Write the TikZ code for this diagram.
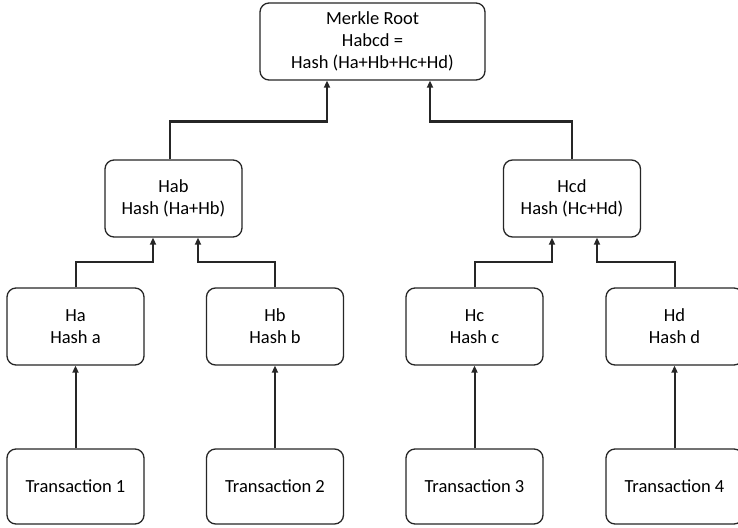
\documentclass[tikz,border=0pt]{standalone}
\usepackage{fontspec}
\setmainfont{Carlito}
\usetikzlibrary{arrows.meta, positioning}

\begin{document}
\begin{tikzpicture}[
  x=1pt, y=-1pt,
  hbox/.style={rectangle, rounded corners=9pt, draw=black!85, line width=1.3pt,
              fill=white, align=center, inner sep=0pt,
              minimum width=137pt, minimum height=77pt,
              font=\fontsize{18.5}{22}\selectfont},
  arr/.style={-{Triangle[length=7pt,width=6pt]}, line width=2pt, black!85}
]
  \useasboundingbox (0,0) rectangle (738,527);
  \node[hbox, minimum width=225pt] (root) at (372.5,41.5) {Merkle Root\\Habcd =\\Hash (Ha+Hb+Hc+Hd)};
  \node[hbox] (hab) at (173.5,198.5) {Hab\\Hash (Ha+Hb)};
  \node[hbox] (hcd) at (572,198.5)   {Hcd\\Hash (Hc+Hd)};
  \node[hbox] (ha) at (75.5,326.5)  {Ha\\Hash a};
  \node[hbox] (hb) at (275,326.5)   {Hb\\Hash b};
  \node[hbox] (hc) at (474.5,326.5) {Hc\\Hash c};
  \node[hbox] (hd) at (674.5,326.5) {Hd\\Hash d};
  \node[hbox, minimum height=75pt] (tx1) at (75.5,486.5)  {Transaction 1};
  \node[hbox, minimum height=75pt] (tx2) at (275,486.5)   {Transaction 2};
  \node[hbox, minimum height=75pt] (tx3) at (474.5,486.5) {Transaction 3};
  \node[hbox, minimum height=75pt] (tx4) at (674.5,486.5) {Transaction 4};
  \draw[arr, line width=2.4pt] ([xshift=-3.5pt]hab.north) -- ++(0,-38) -| ([xshift=-45.5pt]root.south);
  \draw[arr, line width=2.4pt] (hcd.north) -- ++(0,-38) -| ([xshift=57.5pt]root.south);
  \draw[arr] (ha.north) -- ++(0,-25) -| ([xshift=-20.5pt]hab.south);
  \draw[arr] (hb.north) -- ++(0,-25) -| ([xshift=24.5pt]hab.south);
  \draw[arr] (hc.north) -- ++(0,-25) -| ([xshift=-20pt]hcd.south);
  \draw[arr] (hd.north) -- ++(0,-25) -| ([xshift=25pt]hcd.south);
  \draw[arr] (tx1) -- (ha);
  \draw[arr] (tx2) -- (hb);
  \draw[arr] (tx3) -- (hc);
  \draw[arr] (tx4) -- (hd);
\end{tikzpicture}
\end{document}
